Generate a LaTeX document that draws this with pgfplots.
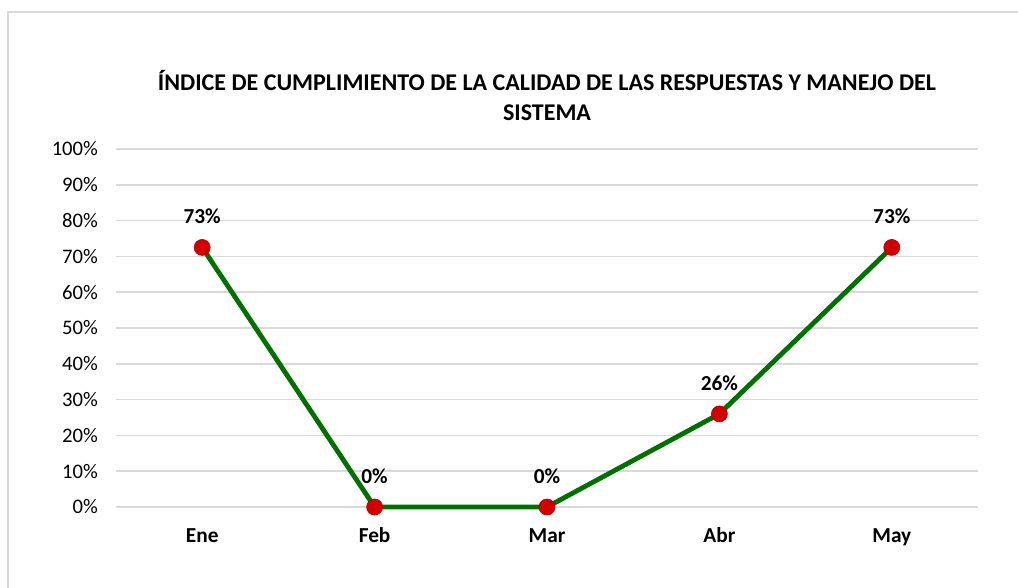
\documentclass[border=0pt]{standalone}
\usepackage{pgfplots}
\pgfplotsset{compat=1.18}
\usepackage{fontspec}
\setmainfont{Carlito}
\definecolor{gridc}{RGB}{217,217,217}
\definecolor{linec}{RGB}{0,112,0}
\definecolor{markc}{RGB}{210,0,0}
\begin{document}
\begin{tikzpicture}[x=0.75pt,y=0.75pt]
\path[use as bounding box] (0,0) rectangle (1018,588);
\draw[gridc,line width=1.5pt] (8,0) -- (8,576) -- (1018,576);
\node[font=\bfseries\fontsize{18}{22.5}\selectfont,align=center] at (547,492) {ÍNDICE DE CUMPLIMIENTO DE LA CALIDAD DE LAS RESPUESTAS Y MANEJO DEL\\SISTEMA};
\begin{axis}[
  at={(87pt,60.75pt)}, anchor=south west,
  scale only axis, width=646.5pt, height=268.5pt,
  xmin=-0.5, xmax=4.5, ymin=0, ymax=100,
  axis line style={draw=none},
  tick style={draw=none},
  ytick={0,10,...,100},
  yticklabel={\pgfmathprintnumber{\tick}\%},
  /pgf/number format/assume math mode=true,
  yticklabel style={font=\fontsize{15.5}{18}\selectfont, xshift=-10pt},
  xtick={0,1,2,3,4},
  xticklabels={Ene,Feb,Mar,Abr,May},
  xticklabel style={font=\bfseries\fontsize{16}{18}\selectfont, text height=11pt, text depth=3pt, yshift=-12pt},
  ymajorgrids, grid style={gridc,line width=1.2pt},
  clip=false,
  point meta=explicit symbolic,
  nodes near coords,
  nodes near coords style={font=\bfseries\fontsize{16}{18}\selectfont, anchor=south, yshift=14pt, text=black},
]
\addplot[linec, line width=3.6pt, mark=*, mark size=6pt, mark options={fill=markc, draw=markc!90!black, line width=0.5pt}] coordinates {
(0,72.5) [73\%] (1,0) [0\%] (2,0) [0\%] (3,26) [26\%] (4,72.5) [73\%]
};
\end{axis}
\end{tikzpicture}
\end{document}
